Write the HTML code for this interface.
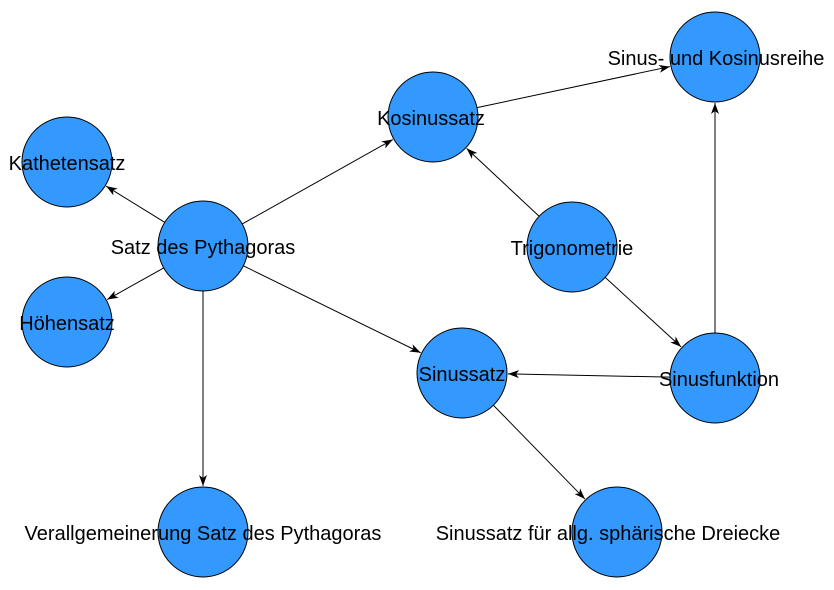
<!DOCTYPE html>
<html><head><meta charset="utf-8"><style>
html,body{margin:0;padding:0;background:#fff;width:834px;height:590px;overflow:hidden}
svg text{font-family:"Liberation Sans",Arial,sans-serif;font-size:20px;fill:#000}
</style></head><body>
<svg id="s" width="834" height="590" xmlns="http://www.w3.org/2000/svg">
<defs><marker id="a" markerWidth="12" markerHeight="8" refX="11" refY="4" orient="auto" markerUnits="userSpaceOnUse"><path d="M0,0 L11,4 L0,8 L3,4 z" fill="#000"/></marker></defs>
<g id="e"></g><g id="n"></g>
</svg>
<script>
var N={K:[67,162,"Kathetensatz",0],P:[203,246,"Satz des Pythagoras",0],H:[67,322,"Höhensatz",0],V:[203,532,"Verallgemeinerung Satz des Pythagoras",0],C:[433,117,"Kosinussatz",-2],R:[715,57,"Sinus- und Kosinusreihe",1],T:[572,247,"Trigonometrie",0],S:[462,373,"Sinussatz",0],F:[715,378,"Sinusfunktion",4],A:[617,532,"Sinussatz für allg. sphärische Dreiecke",-9]};
var E=[["P","K"],["P","H"],["P","C"],["P","S"],["P","V"],["C","R"],["T","C"],["T","F"],["F","S"],["F","R"],["S","A"]];
var r=45,ns="http://www.w3.org/2000/svg",eg=document.getElementById("e"),ng=document.getElementById("n");
E.forEach(function(p){var a=N[p[0]],b=N[p[1]],dx=b[0]-a[0],dy=b[1]-a[1],d=Math.sqrt(dx*dx+dy*dy),ux=dx/d,uy=dy/d;
var l=document.createElementNS(ns,"line");l.setAttribute("x1",a[0]+ux*r);l.setAttribute("y1",a[1]+uy*r);l.setAttribute("x2",b[0]-ux*(r+1));l.setAttribute("y2",b[1]-uy*(r+1));l.setAttribute("stroke","#000");l.setAttribute("stroke-width","1");l.setAttribute("marker-end","url(#a)");eg.appendChild(l);});
for(var k in N){var c=document.createElementNS(ns,"circle");c.setAttribute("cx",N[k][0]);c.setAttribute("cy",N[k][1]);c.setAttribute("r",r);c.setAttribute("fill","#3399ff");c.setAttribute("stroke","#000");c.setAttribute("stroke-width","1");ng.appendChild(c);}
for(var k in N){var t=document.createElementNS(ns,"text");t.setAttribute("x",N[k][0]+N[k][3]);t.setAttribute("y",N[k][1]+8);t.setAttribute("text-anchor","middle");t.textContent=N[k][2];ng.appendChild(t);}
</script>
</body></html>
